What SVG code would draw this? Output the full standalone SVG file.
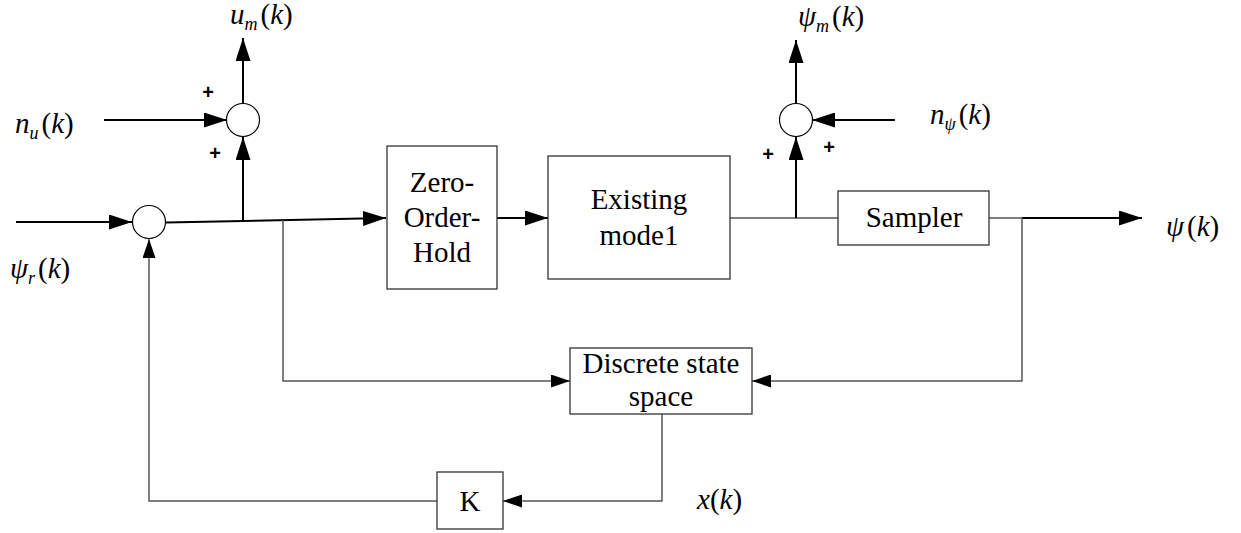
<svg xmlns="http://www.w3.org/2000/svg" width="1241" height="533" viewBox="0 0 1241 533">
<style>
.box{fill:#fff;stroke:#333;stroke-width:1.3}
.sum{fill:#fff;stroke:#000;stroke-width:1.2}
.lbl{font-family:"Liberation Serif","Times New Roman",serif;font-size:29px;fill:#000;text-anchor:middle}
.math{font-family:"Liberation Serif","Times New Roman",serif;font-size:29px;fill:#000}
.it{font-style:italic}
.sub{font-style:italic;font-size:18px}
.plus{font-family:"Liberation Sans",Arial,sans-serif;font-size:20px;font-weight:bold;fill:#000;text-anchor:middle}
.thick{fill:none;stroke:#000;stroke-width:2}
.thin{fill:none;stroke:#555;stroke-width:1.5}
</style>
<defs>
<marker id="ab" markerUnits="userSpaceOnUse" markerWidth="23" markerHeight="15" refX="23" refY="7.5" orient="auto"><path d="M0,0 L23,7.5 L0,15 z" fill="#000"/></marker>
<marker id="as" markerUnits="userSpaceOnUse" markerWidth="19" markerHeight="13" refX="19" refY="6.5" orient="auto"><path d="M0,0 L19,6.5 L0,13 z" fill="#000"/></marker>
</defs>
<g id="connectors">
<path class="thick" d="M16,222 H132" marker-end="url(#ab)"/>
<path class="thick" d="M166,222.5 L386,218" marker-end="url(#ab)"/>
<path class="thick" d="M243,221 V137" marker-end="url(#ab)"/>
<path class="thick" d="M104,120 H227" marker-end="url(#ab)"/>
<path class="thick" d="M243,103 V38" marker-end="url(#ab)"/>
<path class="thick" d="M497,218 H548" marker-end="url(#ab)"/>
<path class="thin" d="M730,218 H838"/>
<path class="thick" d="M796,218 V137" marker-end="url(#ab)"/>
<path class="thick" d="M796,103 V40" marker-end="url(#ab)"/>
<path class="thick" d="M895,120 H812" marker-end="url(#ab)"/>
<path class="thin" d="M989,218 H1022"/>
<path class="thick" d="M1022,218 H1142" marker-end="url(#ab)"/>
<path class="thin" d="M1022,218 V381 H752" marker-end="url(#as)"/>
<path class="thin" d="M283,220 V381 H570" marker-end="url(#as)"/>
<path class="thin" d="M662,414 V501 H503" marker-end="url(#as)"/>
<path class="thin" d="M437,501 H149 V239" marker-end="url(#as)"/>
</g>
<g id="sum1"><circle class="sum" cx="149" cy="222" r="16.5"/></g>
<g id="sum2"><circle class="sum" cx="243" cy="120" r="16.5"/>
<text class="plus" x="208" y="99">+</text><text class="plus" x="215" y="160">+</text></g>
<g id="sum3"><circle class="sum" cx="796" cy="120" r="16.5"/>
<text class="plus" x="768" y="161">+</text><text class="plus" x="829" y="154">+</text></g>
<g id="zoh"><rect class="box" x="387" y="146" width="110" height="143"/>
<text class="lbl" x="442" y="192">Zero-</text><text class="lbl" x="442" y="227">Order-</text><text class="lbl" x="442" y="262">Hold</text></g>
<g id="existing"><rect class="box" x="548" y="156" width="182" height="123"/>
<text class="lbl" x="639" y="209">Existing</text><text class="lbl" x="639" y="245">mode1</text></g>
<g id="sampler"><rect class="box" x="838" y="191" width="151" height="54"/>
<text class="lbl" x="914" y="227">Sampler</text></g>
<g id="dss"><rect class="box" x="570" y="348" width="182" height="66"/>
<text class="lbl" x="661" y="373">Discrete state</text><text class="lbl" x="661" y="406">space</text></g>
<g id="k"><rect class="box" x="437" y="472" width="66" height="57"/>
<text class="lbl" x="470" y="511">K</text></g>
<g id="labels">
<text class="math" x="230" y="24"><tspan class="it">u</tspan><tspan class="sub" dy="6">m</tspan><tspan dy="-6" dx="3">(</tspan><tspan class="it">k</tspan>)</text>
<text class="math" x="15" y="133"><tspan class="it">n</tspan><tspan class="sub" dy="6">u</tspan><tspan dy="-6" dx="3">(</tspan><tspan class="it">k</tspan>)</text>
<text class="math" x="10" y="278"><tspan class="it">ψ</tspan><tspan class="sub" dy="6">r</tspan><tspan dy="-6" dx="3">(</tspan><tspan class="it">k</tspan>)</text>
<text class="math" x="798" y="26"><tspan class="it">ψ</tspan><tspan class="sub" dy="6">m</tspan><tspan dy="-6" dx="3">(</tspan><tspan class="it">k</tspan>)</text>
<text class="math" x="930" y="124"><tspan class="it">n</tspan><tspan class="sub" dy="6">ψ</tspan><tspan dy="-6" dx="3">(</tspan><tspan class="it">k</tspan>)</text>
<text class="math" x="1166" y="236"><tspan class="it">ψ</tspan><tspan dx="3">(</tspan><tspan class="it">k</tspan>)</text>
<text class="math" x="697" y="509"><tspan class="it">x</tspan>(<tspan class="it">k</tspan>)</text>
</g>
</svg>
